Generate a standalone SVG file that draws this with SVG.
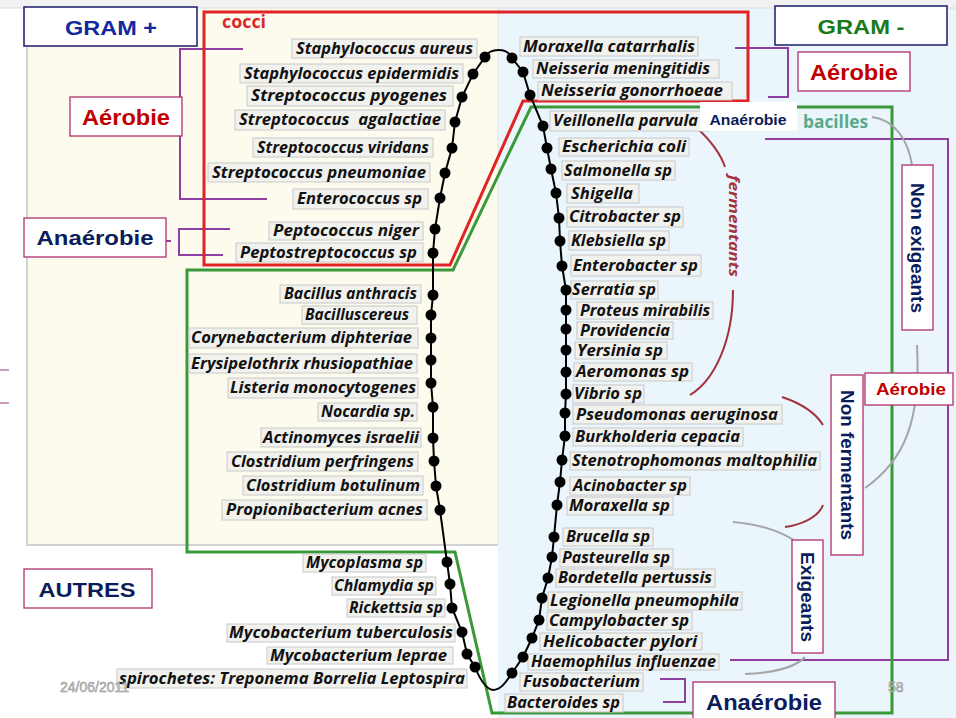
<svg xmlns="http://www.w3.org/2000/svg" width="956" height="718" viewBox="0 0 956 718">
<style>
.lb{fill:#f1f1ee;stroke:#c8c8c8;stroke-width:1}
.lt{font-family:"Open Sans","DejaVu Sans",sans-serif;font-weight:700;font-style:italic;font-size:16px;fill:#121212}
.hb{fill:#fff;stroke:#1b1b6b;stroke-width:1.5}
.cb{fill:#fff;stroke:#b0306e;stroke-width:1.3}
.nv{font-family:"Liberation Sans",Arial,sans-serif;font-weight:700;fill:#0b1d5a;text-anchor:middle}
.rd{font-family:"Liberation Sans",Arial,sans-serif;font-weight:700;fill:#c00000;text-anchor:middle}
.br{fill:none;stroke:#8e3f9f;stroke-width:2}
.gc{fill:none;stroke:#a5a5a5;stroke-width:2}
.rc{fill:none;stroke:#a4323c;stroke-width:2}
.ft{font-family:"Liberation Sans",Arial,sans-serif;font-size:14px;fill:#d4d4d4;stroke:#8a8a8a;stroke-width:0.5}
</style>
<defs>
<circle id="d" r="5.5" fill="#000"/>
</defs>
<!-- backgrounds -->
<rect x="0" y="0" width="956" height="718" fill="#ffffff"/>
<rect x="0" y="0" width="956" height="8" fill="#f2f2f2"/>
<rect x="27" y="8" width="471" height="537" fill="#fdfbee"/>
<rect x="498" y="8" width="458" height="710" fill="#eaf5fc"/>
<path d="M27,8 V545 H498" fill="none" stroke="#d2d2d2" stroke-width="2"/>
<line x1="498" y1="8" x2="498" y2="545" stroke="#e0e0e0" stroke-width="1"/>
<line x1="0" y1="8" x2="956" y2="8" stroke="#dcdcdc" stroke-width="1"/>
<line x1="0" y1="370" x2="9" y2="370" stroke="#9a3a7a" stroke-width="1"/>
<line x1="0" y1="403" x2="9" y2="403" stroke="#9a3a7a" stroke-width="1"/>

<g id="connectors">
<!-- brackets -->
<path class="br" d="M243,49 H180 V199 H267"/>
<path class="br" d="M230,229 H179 V255 H223"/>
<line x1="166" y1="241" x2="171" y2="241" stroke="#8e3f9f" stroke-width="2"/>
<path class="br" d="M735,48 H788 V97 H768"/>
<path class="br" d="M765,139 H948 V660 H730"/>
<path class="br" d="M660,679 H685 V702 H663"/>
<!-- group outlines -->
<path d="M204,12 H748 V101 H523 L450,265 H204 Z" fill="none" stroke="#e02424" stroke-width="3"/>
<path d="M531,107 H892 V713 H492 L455,552 H187 V270 H453 Z" fill="none" stroke="#3a9a3a" stroke-width="3"/>
<!-- curves -->
<path class="rc" d="M697,128 C710,140 720,152 725,167"/>
<path class="rc" d="M733,290 C733,340 715,380 690,395"/>
<path class="rc" d="M782,397 C800,403 815,412 823,425"/>
<path class="rc" d="M823,505 C818,518 800,525 785,527"/>
<path class="gc" d="M872,117 C895,120 908,140 912,165"/>
<path class="gc" d="M917,345 C921,420 905,460 865,488"/>
<path class="gc" d="M733,522 C760,524 782,532 795,541"/>
<path class="gc" d="M805,657 C795,668 770,673 745,674"/>
</g>

<g id="labels">
<g id="n1"><rect class="lb" x="292" y="39" width="185" height="19"/><text class="lt" x="296" y="54" textLength="177" lengthAdjust="spacingAndGlyphs">Staphylococcus aureus</text></g>
<g id="n2"><rect class="lb" x="240" y="64" width="223" height="19"/><text class="lt" x="244" y="79" textLength="215" lengthAdjust="spacingAndGlyphs">Staphylococcus epidermidis</text></g>
<g id="n3"><rect class="lb" x="247" y="86" width="206" height="20"/><text class="lt" x="251" y="101" textLength="196" lengthAdjust="spacingAndGlyphs">Streptococcus pyogenes</text></g>
<g id="n4"><rect class="lb" x="235" y="110" width="210" height="20"/><text class="lt" x="239" y="125" textLength="202" lengthAdjust="spacingAndGlyphs" xml:space="preserve">Streptococcus  agalactiae</text></g>
<g id="n5"><rect class="lb" x="253" y="138" width="180" height="19"/><text class="lt" x="257" y="153" textLength="172" lengthAdjust="spacingAndGlyphs">Streptococcus viridans</text></g>
<g id="n6"><rect class="lb" x="208" y="163" width="222" height="19"/><text class="lt" x="212" y="178" textLength="214" lengthAdjust="spacingAndGlyphs">Streptococcus pneumoniae</text></g>
<g id="n7"><rect class="lb" x="293" y="189" width="135" height="20"/><text class="lt" x="297" y="204" textLength="125" lengthAdjust="spacingAndGlyphs">Enterococcus sp</text></g>
<g id="n8"><rect class="lb" x="269" y="222" width="154" height="18"/><text class="lt" x="273" y="236" textLength="146" lengthAdjust="spacingAndGlyphs">Peptococcus niger</text></g>
<g id="n9"><rect class="lb" x="236" y="243" width="187" height="19"/><text class="lt" x="240" y="258" textLength="177" lengthAdjust="spacingAndGlyphs">Peptostreptococcus sp</text></g>
<g id="n10"><rect class="lb" x="280" y="285" width="141" height="18"/><text class="lt" x="284" y="299" textLength="133" lengthAdjust="spacingAndGlyphs">Bacillus anthracis</text></g>
<g id="n11"><rect class="lb" x="302" y="306" width="115" height="18"/><text class="lt" x="305" y="320" textLength="104" lengthAdjust="spacingAndGlyphs">Bacilluscereus</text></g>
<g id="n12"><rect class="lb" x="189" y="328" width="229" height="20"/><text class="lt" x="191" y="343" textLength="221" lengthAdjust="spacingAndGlyphs">Corynebacterium diphteriae</text></g>
<g id="n13"><rect class="lb" x="189" y="354" width="228" height="19"/><text class="lt" x="191" y="369" textLength="222" lengthAdjust="spacingAndGlyphs">Erysipelothrix rhusiopathiae</text></g>
<g id="n14"><rect class="lb" x="228" y="378" width="190" height="20"/><text class="lt" x="230" y="393" textLength="186" lengthAdjust="spacingAndGlyphs">Listeria monocytogenes</text></g>
<g id="n15"><rect class="lb" x="318" y="403" width="99" height="18"/><text class="lt" x="321" y="417" textLength="94" lengthAdjust="spacingAndGlyphs">Nocardia sp.</text></g>
<g id="n16"><rect class="lb" x="261" y="428" width="160" height="19"/><text class="lt" x="263" y="443" textLength="156" lengthAdjust="spacingAndGlyphs">Actinomyces israelii</text></g>
<g id="n17"><rect class="lb" x="227" y="452" width="191" height="19"/><text class="lt" x="231" y="467" textLength="183" lengthAdjust="spacingAndGlyphs">Clostridium perfringens</text></g>
<g id="n18"><rect class="lb" x="243" y="476" width="180" height="19"/><text class="lt" x="246" y="491" textLength="174" lengthAdjust="spacingAndGlyphs">Clostridium botulinum</text></g>
<g id="n19"><rect class="lb" x="222" y="500" width="205" height="20"/><text class="lt" x="226" y="515" textLength="197" lengthAdjust="spacingAndGlyphs">Propionibacterium acnes</text></g>
<g id="n20"><rect class="lb" x="303" y="554" width="123" height="18"/><text class="lt" x="306" y="568" textLength="117" lengthAdjust="spacingAndGlyphs">Mycoplasma sp</text></g>
<g id="n21"><rect class="lb" x="332" y="577" width="104" height="18"/><text class="lt" x="334" y="591" textLength="100" lengthAdjust="spacingAndGlyphs">Chlamydia sp</text></g>
<g id="n22"><rect class="lb" x="347" y="599" width="98" height="18"/><text class="lt" x="349" y="613" textLength="94" lengthAdjust="spacingAndGlyphs">Rickettsia sp</text></g>
<g id="n23"><rect class="lb" x="227" y="624" width="228" height="18"/><text class="lt" x="229" y="638" textLength="224" lengthAdjust="spacingAndGlyphs">Mycobacterium tuberculosis</text></g>
<g id="n24"><rect class="lb" x="267" y="647" width="186" height="17"/><text class="lt" x="270" y="661" textLength="177" lengthAdjust="spacingAndGlyphs">Mycobacterium leprae</text></g>
<g id="n25"><rect class="lb" x="117" y="669" width="350" height="19"/><text class="lt" x="119" y="684" textLength="346" lengthAdjust="spacingAndGlyphs">spirochetes: Treponema Borrelia Leptospira</text></g>
<g id="n26"><rect class="lb" x="520" y="37" width="178" height="19"/><text class="lt" x="523" y="52" textLength="172" lengthAdjust="spacingAndGlyphs">Moraxella catarrhalis</text></g>
<g id="n27"><rect class="lb" x="533" y="60" width="186" height="18"/><text class="lt" x="536" y="74" textLength="174" lengthAdjust="spacingAndGlyphs">Neisseria meningitidis</text></g>
<g id="n28"><rect class="lb" x="538" y="82" width="194" height="18"/><text class="lt" x="541" y="96" textLength="182" lengthAdjust="spacingAndGlyphs">Neisseria gonorrhoeae</text></g>
<g id="n29"><rect class="lb" x="550" y="111" width="160" height="20"/><text class="lt" x="553" y="126" textLength="145" lengthAdjust="spacingAndGlyphs">Veillonella parvula</text></g>
<g id="n30"><rect class="lb" x="559" y="138" width="130" height="18"/><text class="lt" x="562" y="152" textLength="124" lengthAdjust="spacingAndGlyphs">Escherichia coli</text></g>
<g id="n31"><rect class="lb" x="562" y="161" width="113" height="19"/><text class="lt" x="564" y="176" textLength="108" lengthAdjust="spacingAndGlyphs">Salmonella sp</text></g>
<g id="n32"><rect class="lb" x="567" y="184" width="72" height="19"/><text class="lt" x="571" y="199" textLength="62" lengthAdjust="spacingAndGlyphs">Shigella</text></g>
<g id="n33"><rect class="lb" x="567" y="207" width="116" height="20"/><text class="lt" x="569" y="222" textLength="112" lengthAdjust="spacingAndGlyphs">Citrobacter sp</text></g>
<g id="n34"><rect class="lb" x="569" y="231" width="100" height="19"/><text class="lt" x="571" y="246" textLength="95" lengthAdjust="spacingAndGlyphs">Klebsiella sp</text></g>
<g id="n35"><rect class="lb" x="571" y="255" width="130" height="21"/><text class="lt" x="573" y="271" textLength="125" lengthAdjust="spacingAndGlyphs">Enterobacter sp</text></g>
<g id="n36"><rect class="lb" x="571" y="281" width="87" height="18"/><text class="lt" x="572" y="295" textLength="84" lengthAdjust="spacingAndGlyphs">Serratia sp</text></g>
<g id="n37"><rect class="lb" x="577" y="302" width="136" height="17"/><text class="lt" x="580" y="316" textLength="130" lengthAdjust="spacingAndGlyphs">Proteus mirabilis</text></g>
<g id="n38"><rect class="lb" x="577" y="322" width="96" height="17"/><text class="lt" x="580" y="336" textLength="90" lengthAdjust="spacingAndGlyphs">Providencia</text></g>
<g id="n39"><rect class="lb" x="575" y="342" width="92" height="17"/><text class="lt" x="577" y="356" textLength="86" lengthAdjust="spacingAndGlyphs">Yersinia sp</text></g>
<g id="n40"><rect class="lb" x="574" y="363" width="118" height="18"/><text class="lt" x="576" y="377" textLength="113" lengthAdjust="spacingAndGlyphs">Aeromonas sp</text></g>
<g id="n41"><rect class="lb" x="573" y="385" width="71" height="18"/><text class="lt" x="574" y="399" textLength="68" lengthAdjust="spacingAndGlyphs">Vibrio sp</text></g>
<g id="n42"><rect class="lb" x="573" y="405" width="209" height="19"/><text class="lt" x="576" y="420" textLength="202" lengthAdjust="spacingAndGlyphs">Pseudomonas aeruginosa</text></g>
<g id="n43"><rect class="lb" x="573" y="428" width="170" height="18"/><text class="lt" x="575" y="442" textLength="165" lengthAdjust="spacingAndGlyphs">Burkholderia cepacia</text></g>
<g id="n44"><rect class="lb" x="570" y="452" width="250" height="18"/><text class="lt" x="572" y="466" textLength="245" lengthAdjust="spacingAndGlyphs">Stenotrophomonas maltophilia</text></g>
<g id="n45"><rect class="lb" x="570" y="477" width="120" height="18"/><text class="lt" x="573" y="491" textLength="114" lengthAdjust="spacingAndGlyphs">Acinobacter sp</text></g>
<g id="n46"><rect class="lb" x="567" y="497" width="106" height="18"/><text class="lt" x="569" y="511" textLength="101" lengthAdjust="spacingAndGlyphs">Moraxella sp</text></g>
<g id="n47"><rect class="lb" x="563" y="528" width="90" height="18"/><text class="lt" x="566" y="542" textLength="84" lengthAdjust="spacingAndGlyphs">Brucella sp</text></g>
<g id="n48"><rect class="lb" x="560" y="549" width="113" height="18"/><text class="lt" x="562" y="563" textLength="108" lengthAdjust="spacingAndGlyphs">Pasteurella sp</text></g>
<g id="n49"><rect class="lb" x="556" y="569" width="159" height="18"/><text class="lt" x="558" y="583" textLength="154" lengthAdjust="spacingAndGlyphs">Bordetella pertussis</text></g>
<g id="n50"><rect class="lb" x="548" y="592" width="194" height="18"/><text class="lt" x="550" y="606" textLength="189" lengthAdjust="spacingAndGlyphs">Legionella pneumophila</text></g>
<g id="n51"><rect class="lb" x="547" y="612" width="145" height="18"/><text class="lt" x="549" y="626" font-size="15" textLength="140" lengthAdjust="spacingAndGlyphs">Campylobacter sp</text></g>
<g id="n52"><rect class="lb" x="540" y="633" width="162" height="17"/><text class="lt" x="543" y="647" font-size="15" textLength="154" lengthAdjust="spacingAndGlyphs">Helicobacter pylori</text></g>
<g id="n53"><rect class="lb" x="528" y="654" width="191" height="16"/><text class="lt" x="531" y="667" font-size="15" textLength="185" lengthAdjust="spacingAndGlyphs">Haemophilus influenzae</text></g>
<g id="n54"><rect class="lb" x="520" y="673" width="123" height="18"/><text class="lt" x="523" y="687" textLength="117" lengthAdjust="spacingAndGlyphs">Fusobacterium</text></g>
<g id="n55"><rect class="lb" x="505" y="694" width="118" height="18"/><text class="lt" x="507" y="708" textLength="113" lengthAdjust="spacingAndGlyphs">Bacteroides sp</text></g>
</g>

<g id="chain">
<path d="M512,673 C505,684 500,690 493,690 C485,689 479,677 475,667 L467,654 L462,632 L452,608 L450,584 L447,562 L440,510 L436,486 L434,461 L433,438 L433,407 L431,383 L431,360 L431,338 L431,315 L433,295 L433,253 L435,229 L440,198 L445,173 L452,148 L455,122 L462,97 L473,74 L485,57 C490,48 507,47 512,58 L523,72 L530,95 L543,126 L547,148 L551,169 L556,193 L559,218 L560,241 L562,266 L566,290 L566,310 L566,329 L566,350 L566,372 L566,394 L565,413 L565,436 L562,460 L560,482 L557,505 L554,537 L552,557 L548,578 L542,598 L539,620 L532,638 L523,657 L512,673" fill="none" stroke="#000" stroke-width="2"/>
<use href="#d" x="475" y="667"/><use href="#d" x="467" y="654"/><use href="#d" x="462" y="632"/><use href="#d" x="452" y="608"/><use href="#d" x="450" y="584"/><use href="#d" x="447" y="562"/>
<use href="#d" x="440" y="510"/><use href="#d" x="436" y="486"/><use href="#d" x="434" y="461"/><use href="#d" x="433" y="438"/><use href="#d" x="433" y="407"/><use href="#d" x="431" y="383"/><use href="#d" x="431" y="360"/><use href="#d" x="431" y="338"/><use href="#d" x="431" y="315"/><use href="#d" x="433" y="295"/>
<use href="#d" x="433" y="253"/><use href="#d" x="435" y="229"/><use href="#d" x="440" y="198"/><use href="#d" x="445" y="173"/><use href="#d" x="452" y="148"/><use href="#d" x="455" y="122"/><use href="#d" x="462" y="97"/><use href="#d" x="473" y="74"/><use href="#d" x="485" y="57"/>
<use href="#d" x="512" y="58"/><use href="#d" x="523" y="72"/><use href="#d" x="530" y="95"/><use href="#d" x="543" y="126"/>
<use href="#d" x="547" y="148"/><use href="#d" x="551" y="169"/><use href="#d" x="556" y="193"/><use href="#d" x="559" y="218"/><use href="#d" x="560" y="241"/><use href="#d" x="562" y="266"/><use href="#d" x="566" y="290"/><use href="#d" x="566" y="310"/><use href="#d" x="566" y="329"/><use href="#d" x="566" y="350"/><use href="#d" x="566" y="372"/><use href="#d" x="566" y="394"/><use href="#d" x="565" y="413"/><use href="#d" x="565" y="436"/><use href="#d" x="562" y="460"/><use href="#d" x="560" y="482"/><use href="#d" x="557" y="505"/><use href="#d" x="554" y="537"/><use href="#d" x="552" y="557"/><use href="#d" x="548" y="578"/><use href="#d" x="542" y="598"/><use href="#d" x="539" y="620"/><use href="#d" x="532" y="638"/><use href="#d" x="523" y="657"/><use href="#d" x="512" y="673"/>
</g>

<g id="group-titles">
<text x="222" y="28" font-family="Open Sans,DejaVu Sans,sans-serif" font-weight="700" font-size="17" fill="#d82a2a" textLength="44" lengthAdjust="spacingAndGlyphs">cocci</text>
<rect x="700" y="102" width="97" height="29" fill="#ffffff"/>
<text x="748" y="125" class="nv" font-size="14" textLength="77" lengthAdjust="spacingAndGlyphs">Anaérobie</text>
<text x="803" y="128" font-family="Open Sans,DejaVu Sans,sans-serif" font-weight="700" font-size="17" fill="#5aa98a" textLength="65" lengthAdjust="spacingAndGlyphs">bacilles</text>
</g>

<g id="gram-pos"><rect class="hb" x="24" y="7" width="173" height="39"/><text class="nv" x="111" y="35" font-size="21" style="fill:#1428a0" textLength="92" lengthAdjust="spacingAndGlyphs">GRAM +</text></g>
<g id="gram-neg"><rect class="hb" x="775" y="6" width="172" height="39"/><text x="861" y="34" font-size="21" font-family="Liberation Sans,Arial,sans-serif" font-weight="700" text-anchor="middle" fill="#1a7a1a" textLength="87" lengthAdjust="spacingAndGlyphs">GRAM -</text></g>
<g id="aerobie-pos"><rect class="cb" x="70" y="97" width="112" height="39"/><text class="rd" x="126" y="125" font-size="22" textLength="88" lengthAdjust="spacingAndGlyphs">Aérobie</text></g>
<g id="anaerobie-pos"><rect class="cb" x="24" y="218" width="142" height="39"/><text class="nv" x="95" y="245" font-size="21" textLength="117" lengthAdjust="spacingAndGlyphs">Anaérobie</text></g>
<g id="autres"><rect class="cb" x="24" y="569" width="128" height="39"/><text class="nv" x="87" y="597" font-size="21" textLength="97" lengthAdjust="spacingAndGlyphs">AUTRES</text></g>
<g id="aerobie-neg"><rect class="cb" x="798" y="52" width="112" height="39"/><text class="rd" x="854" y="80" font-size="22" textLength="88" lengthAdjust="spacingAndGlyphs">Aérobie</text></g>
<g id="non-exigeants"><rect class="cb" x="902" y="165" width="31" height="165"/><text class="nv" x="917" y="248" font-size="18" dominant-baseline="central" transform="rotate(90 917 248)" textLength="130" lengthAdjust="spacingAndGlyphs">Non exigeants</text></g>
<g id="aerobie-right"><rect class="cb" x="865" y="373" width="88" height="32"/><text class="rd" x="911" y="395" font-size="17" textLength="70" lengthAdjust="spacingAndGlyphs">Aérobie</text></g>
<g id="non-fermentants"><rect class="cb" x="831" y="375" width="32" height="180"/><text class="nv" x="847" y="465" font-size="18" dominant-baseline="central" transform="rotate(90 847 465)" textLength="150" lengthAdjust="spacingAndGlyphs">Non fermentants</text></g>
<g id="exigeants"><rect class="cb" x="792" y="540" width="31" height="113"/><text class="nv" x="807" y="597" font-size="18" dominant-baseline="central" transform="rotate(90 807 597)" textLength="90" lengthAdjust="spacingAndGlyphs">Exigeants</text></g>
<g id="fermentants"><text x="735" y="226" font-family="Open Sans,DejaVu Sans,sans-serif" font-weight="700" font-style="italic" font-size="15" fill="#a4323c" text-anchor="middle" dominant-baseline="central" transform="rotate(90 735 226)" textLength="102" lengthAdjust="spacingAndGlyphs">fermentants</text></g>
<g id="anaerobie-neg"><rect class="cb" x="693" y="682" width="142" height="40"/><text class="nv" x="764" y="710" font-size="22" textLength="116" lengthAdjust="spacingAndGlyphs">Anaérobie</text></g>

<g id="footer">
<text class="ft" x="60" y="692">24/06/2011</text>
<text class="ft" x="888" y="692">58</text>
</g>
</svg>
